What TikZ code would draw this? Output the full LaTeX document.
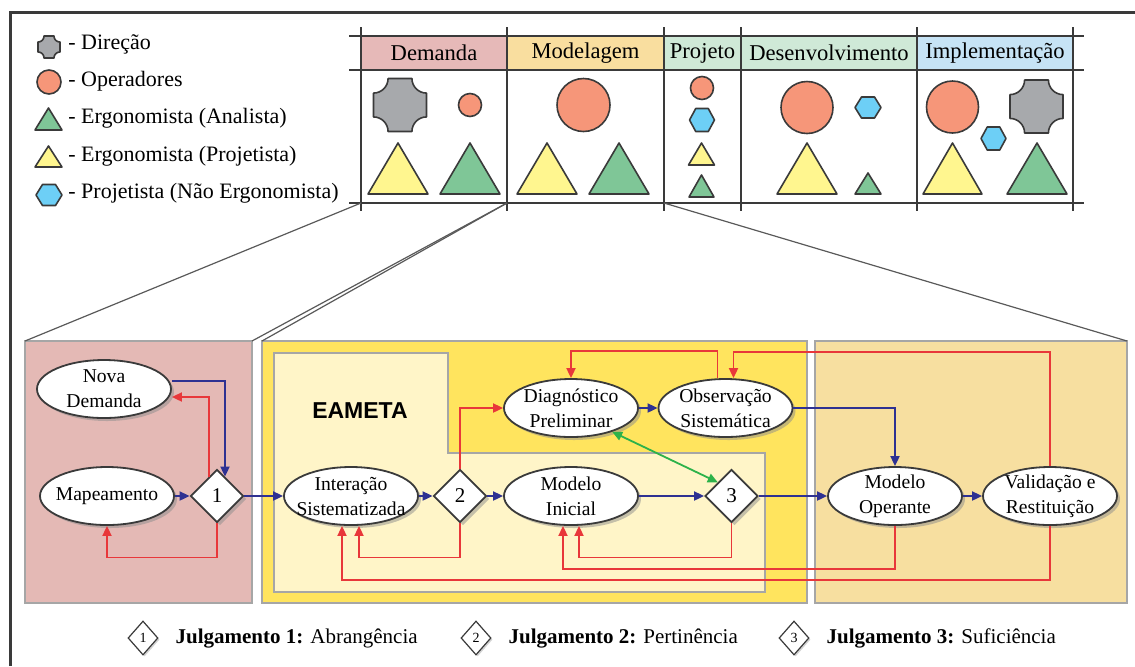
\documentclass[tikz,border=0pt]{standalone}
\usepackage{fontspec}
\setmainfont{Liberation Serif}
\setsansfont{Liberation Sans}
\usetikzlibrary{arrows.meta,shapes.geometric,shadows,calc,positioning}

\definecolor{linha}{HTML}{3A3A3A}
\definecolor{cinza}{HTML}{A7A9AC}
\definecolor{laranja}{HTML}{F69679}
\definecolor{verde}{HTML}{7FC697}
\definecolor{amarelo}{HTML}{FFF68F}
\definecolor{celeste}{HTML}{6DCFF6}
\definecolor{cdemanda}{HTML}{E6B9B8}
\definecolor{cmodel}{HTML}{F9DE9F}
\definecolor{cproj}{HTML}{CFE9D7}
\definecolor{cimpl}{HTML}{C6E3F5}
\definecolor{pdemanda}{HTML}{E4B9B5}
\definecolor{pmodel}{HTML}{FFE45E}
\definecolor{pmodelin}{HTML}{FFF5C8}
\definecolor{poper}{HTML}{F7DFA0}
\definecolor{azul}{HTML}{2E3192}
\definecolor{vermelho}{HTML}{E8373A}
\definecolor{verdeseta}{HTML}{2DB24A}

\tikzset{
  forma/.style={draw=linha, line width=0.8pt, line join=round},
  painel/.style={draw=black!35, line width=0.6pt},
  grade/.style={draw=linha, line width=1.2pt},
  ligacao/.style={draw=black!65, line width=0.6pt},
  etapa/.style={ellipse, draw=linha, line width=0.9pt, fill=white,
    minimum width=67pt, minimum height=29pt, inner xsep=-5pt, inner ysep=-4pt,
    align=center, font=\fontsize{9.8}{12.5}\selectfont,
    drop shadow={shadow xshift=1.5pt, shadow yshift=-1.5pt, fill=black!45}},
  julg/.style={diamond, draw=linha, line width=0.9pt, fill=white,
    minimum width=26.5pt, minimum height=26.5pt, inner sep=0pt,
    font=\fontsize{10.5}{12}\selectfont,
    drop shadow={shadow xshift=1.5pt, shadow yshift=-1.5pt, fill=black!45}},
  julgp/.style={diamond, draw=linha, line width=0.6pt, fill=white,
    minimum width=15pt, minimum height=17pt, inner sep=0pt,
    font=\fontsize{7}{8}\selectfont,
    drop shadow={shadow xshift=0.8pt, shadow yshift=-0.8pt, fill=black!35}},
  fluxo/.style={draw=azul, line width=0.9pt, -{Triangle[length=5pt,width=4.5pt]}},
  retorno/.style={draw=vermelho, line width=0.9pt, -{Triangle[length=5pt,width=4.5pt]}},
}

% icones dos atores
\newcommand{\direcao}[3]{%
  \begin{scope}[shift={(#1,#2)}]
    \pgfmathsetmacro{\hh}{#3}\pgfmathsetmacro{\rr}{0.55*#3}
    \filldraw[forma, fill=cinza] ({-\hh+\rr},{-\hh}) -- ({\hh-\rr},{-\hh})
      arc[start angle=180, end angle=90, radius=\rr] -- ({\hh},{\hh-\rr})
      arc[start angle=270, end angle=180, radius=\rr] -- ({-\hh+\rr},{\hh})
      arc[start angle=0, end angle=-90, radius=\rr] -- ({-\hh},{-\hh+\rr})
      arc[start angle=90, end angle=0, radius=\rr] -- cycle;
  \end{scope}}
\newcommand{\operador}[3]{\filldraw[forma, fill=laranja] (#1,#2) circle[radius=#3];}
\newcommand{\triang}[5]{\filldraw[forma, fill=#5] ({#1-#3/2},#2) -- ({#1+#3/2},#2) -- (#1,{#2-#4}) -- cycle;}
\newcommand{\hexag}[4]{\filldraw[forma, fill=celeste] ({#1-#3/2},#2) -- ({#1-#3/4},{#2-#4/2})
  -- ({#1+#3/4},{#2-#4/2}) -- ({#1+#3/2},#2) -- ({#1+#3/4},{#2+#4/2}) -- ({#1-#3/4},{#2+#4/2}) -- cycle;}

\begin{document}
\begin{tikzpicture}[x=0.5pt,y=-0.5pt]
\useasboundingbox (0,0) rectangle (1135,666);

% moldura
\draw[linha, line width=1.5pt] (10,666) -- (10,12) -- (1135,12);

% legenda dos atores
\direcao{49}{47}{11}
\operador{49}{82}{12}
\triang{48.5}{130}{27}{22}{verde}
\triang{48.5}{167}{27}{21}{amarelo}
\hexag{49}{195}{26}{21}
\begin{scope}[every node/.style={anchor=west, inner sep=0pt, font=\fontsize{11}{13}\selectfont}]
  \node (leg1) at (68,44) {- Direção};
  \node (leg2) at (68,81) {- Operadores};
  \node (leg3) at (68,118) {- Ergonomista (Analista)};
  \node (leg4) at (68,156) {- Ergonomista (Projetista)};
  \node (leg5) at (68,193) {- Projetista (Não Ergonomista)};
\end{scope}

% tabela das fases
\fill[cdemanda] (361,36) rectangle (507,70);
\fill[cmodel] (507,36) rectangle (664,70);
\fill[cproj] (664,36) rectangle (917,70);
\fill[cimpl] (917,36) rectangle (1073,70);
\begin{scope}[every node/.style={font=\fontsize{11.3}{13}\selectfont}]
  \node (fdem) at (434,53) {Demanda};
  \node (fmod) at (585.5,53) {Modelagem};
  \node (fpro) at (702.5,53) {Projeto};
  \node (fdes) at (829,53) {Desenvolvimento};
  \node (fimp) at (995,53) {Implementação};
\end{scope}
\foreach \y in {36,70,203}
  \draw[grade] (349,\y) -- (1084,\y);
\foreach \x in {361,507,664,741,917,1073}
  \draw[grade] (\x,27) -- (\x,211);

% Demanda
\direcao{400}{105}{26.5}
\operador{470}{105}{11.5}
\triang{398}{194}{60}{51}{amarelo}
\triang{470}{194}{60}{51}{verde}
% Modelagem
\operador{583.5}{105}{26.5}
\triang{547}{194}{60}{51}{amarelo}
\triang{619}{194}{60}{51}{verde}
% Projeto
\operador{702}{88}{11.5}
\hexag{702}{120}{25}{23}
\triang{701.5}{165}{26}{22}{amarelo}
\triang{701.5}{197}{25}{22}{verde}
% Desenvolvimento
\operador{807}{107.5}{26}
\hexag{868}{107.5}{26}{21}
\triang{807}{194}{60}{51}{amarelo}
\triang{868}{194}{26}{21}{verde}
% Implementacao
\operador{952.5}{107}{26}
\direcao{1036.5}{106.5}{26.5}
\hexag{993.5}{138.5}{25}{23}
\triang{952.5}{194}{59}{51}{amarelo}
\triang{1037}{194}{60}{51}{verde}

% paineis
\filldraw[painel, fill=pdemanda] (25,341) rectangle (252,603);
\filldraw[painel, fill=pmodel] (262,341) rectangle (807,603);
\filldraw[painel, fill=pmodelin] (274,353) -- (448,353) -- (448,453) -- (765,453)
  -- (765,592) -- (274,592) -- cycle;
\filldraw[painel, fill=poper] (815,341) rectangle (1127,603);
\draw[ligacao] (361,203) -- (25,341);
\draw[ligacao] (507,203) -- (252,341);
\draw[ligacao] (507,203) -- (262,341);
\draw[ligacao] (664,203) -- (1127,341);

\node[font=\sffamily\bfseries\fontsize{11.5}{13}\selectfont] (eameta) at (360,411) {EAMETA};

% etapas
\node[etapa] (nova) at (104,389) {Nova\\Demanda};
\node[etapa] (map) at (107,496) {Mapeamento};
\node[julg] (d1) at (217,496) {1};
\node[etapa] (inter) at (351,496) {Interação\\Sistematizada};
\node[julg] (d2) at (460,496) {2};
\node[etapa] (mi) at (571,496) {Modelo\\Inicial};
\node[julg] (d3) at (731.5,496) {3};
\node[etapa] (diag) at (571,408) {Diagnóstico\\Preliminar};
\node[etapa] (obs) at (725.5,408) {Observação\\Sistemática};
\node[etapa] (mop) at (895,496) {Modelo\\Operante};
\node[etapa] (val) at (1050,496) {Validação e\\Restituição};

% fluxo principal
\draw[fluxo] ($(nova.east)+(0,-8)$) -| ($(d1.north)+(8,8)$);
\draw[fluxo] (map.east) -- (d1.west);
\draw[fluxo] (d1.east) -- (inter.west);
\draw[fluxo] (inter.east) -- (d2.west);
\draw[fluxo] (d2.east) -- (mi.west);
\draw[fluxo] (mi.east) -- (d3.west);
\draw[fluxo] (d3.east) -- (mop.west);
\draw[fluxo] (diag.east) -- (obs.west);
\draw[fluxo] (obs.east) -| (mop.north);
\draw[fluxo] (mop.east) -- (val.west);

% retornos
\draw[retorno] ($(d1.north)+(-8,8)$) |- ($(nova.east)+(0,8)$);
\draw[retorno] (d1.south) -- ++(0,34) -| (map.south);
\draw[retorno] (d2.north) |- (diag.west);
\draw[retorno] (d2.south) -- ++(0,34) -| ($(inter.south)+(8,0)$);
\draw[retorno] (d3.south) -- ++(0,34) -| ($(mi.south)+(8,0)$);
\draw[retorno] (mop.south) -- ++(0,43) -| ($(mi.south)+(-8,0)$);
\draw[retorno] (val.south) -- ++(0,54) -| ($(inter.south)+(-9,0)$);
\draw[retorno] ($(obs.north)+(-8,0)$) -- ++(0,-27) -| (diag.north);
\draw[retorno] (val.north) -- ++(0,-114) -| ($(obs.north)+(8,0)$);
\draw[verdeseta, line width=0.9pt, {Triangle[length=5pt,width=4.5pt]}-{Triangle[length=5pt,width=4.5pt]}]
  (diag.-30) -- (d3.north west);

% legenda dos julgamentos
\node[julgp] (j1) at (143,638) {1};
\node[right=5pt of j1, font=\fontsize{10.5}{12}\selectfont] (t1) {\textbf{Julgamento 1:} Abrangência};
\node[julgp] (j2) at (476,638) {2};
\node[right=5pt of j2, font=\fontsize{10.5}{12}\selectfont] (t2) {\textbf{Julgamento 2:} Pertinência};
\node[julgp] (j3) at (794,638) {3};
\node[right=5pt of j3, font=\fontsize{10.5}{12}\selectfont] (t3) {\textbf{Julgamento 3:} Suficiência};
\end{tikzpicture}
\end{document}
